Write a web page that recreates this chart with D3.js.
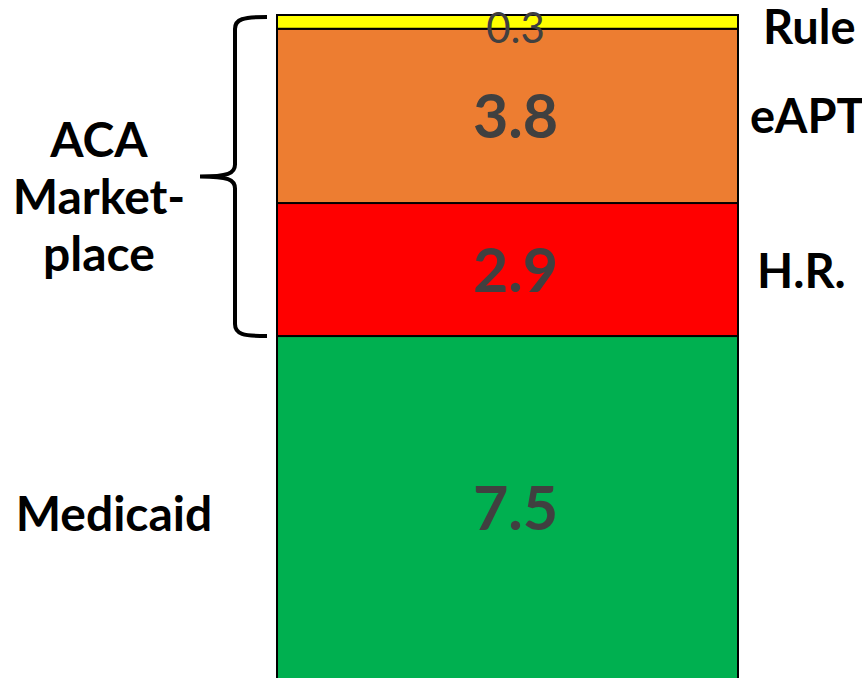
<!DOCTYPE html>
<html>
<head>
<meta charset="utf-8">
<script src="https://cdn.jsdelivr.net/npm/d3@7"></script>
<style>
  body { margin: 0; background: #fff; }
  svg { display: block; font-family: Lato, "Open Sans", sans-serif; }
</style>
</head>
<body>
<div id="chart"></div>
<script>
var width = 862,
    height = 678;

// data, bottom to top
var categories = ["Coverage"];
var segments = ["Medicaid", "H.R.", "eAPTC", "Rule"];
var values = [7.5, 2.9, 3.8, 0.3];
var valueLabels = ["7.5", "2.9", "3.8", "0.3"];
var rightLabels = ["", "H.R.", "eAPTC", "Rule"];
var colors = ["#00b050", "#ff0000", "#ed7d31", "#ffff00"];
var marketLabel = ["ACA", "Market-", "place"];

var svg = d3.select("#chart")
    .append("svg")
    .attr("width", width)
    .attr("height", height);

var row = {};
segments.forEach(function(s, i) { row[s] = values[i]; });

var stacked = d3.stack().keys(segments)([row]);

var x = d3.scaleBand()
    .domain(categories)
    .range([277, 738]);

var y = d3.scaleLinear()
    .domain([0, d3.sum(values)])
    .range([680, 15]);

var seg = svg.selectAll(".seg")
    .data(stacked)
    .enter().append("g")
      .attr("class", "seg");

seg.append("rect")
    .attr("x", x(categories[0]))
    .attr("width", x.bandwidth())
    .attr("y", function(d) { return y(d[0][1]); })
    .attr("height", function(d) { return y(d[0][0]) - y(d[0][1]); })
    .attr("fill", function(d, i) { return colors[i]; })
    .attr("stroke", "#000")
    .attr("stroke-width", 2);

// value labels in the middle of each segment
seg.append("text")
    .attr("x", x(categories[0]) + x.bandwidth() / 2 + 8)
    .attr("y", function(d, i) {
      var mid = (y(d[0][0]) + y(d[0][1])) / 2;
      return i === 3 ? mid + 21 : mid + 22;
    })
    .attr("text-anchor", "middle")
    .attr("fill", "#404040")
    .attr("font-size", function(d, i) { return i === 3 ? 42 : 61; })
    .attr("font-weight", function(d, i) { return i === 3 ? "normal" : "bold"; })
    .text(function(d, i) { return valueLabels[i]; });

// labels on the right of the bar
var rightPos = [null, [757, 288], [750, 133], [763, 44]];
svg.selectAll(".rlabel")
    .data(rightLabels)
    .enter().filter(function(d) { return d; })
    .append("text")
      .attr("class", "rlabel")
      .attr("x", function(d) { return rightPos[rightLabels.indexOf(d)][0]; })
      .attr("y", function(d) { return rightPos[rightLabels.indexOf(d)][1]; })
      .attr("font-size", 47)
      .attr("font-weight", "bold")
      .attr("fill", "#000")
      .text(function(d) { return d; });

// left labels
svg.append("text")
    .attr("x", 114)
    .attr("y", 531)
    .attr("text-anchor", "middle")
    .attr("font-size", 48)
    .attr("font-weight", "bold")
    .text(segments[0]);

svg.append("text")
    .attr("text-anchor", "middle")
    .attr("font-size", 48)
    .attr("font-weight", "bold")
    .selectAll("tspan")
    .data(marketLabel)
    .enter().append("tspan")
      .attr("x", 99)
      .attr("y", function(d, i) { return 157 + i * 57; })
      .text(function(d) { return d; });

// curly brace around the marketplace segments
var braceTop = y(d3.sum(values)) + 2,
    braceBot = y(values[0]),
    braceMid = (braceTop + braceBot) / 2;

svg.append("path")
    .attr("d", "M267," + braceTop + " C243," + braceTop + " 235," + (braceTop + 2) + " 235," + (braceTop + 12) +
               " L235," + (braceMid - 12) + " C235," + (braceMid - 3) + " 228," + braceMid + " 200," + braceMid +
               " C228," + braceMid + " 235," + (braceMid + 3) + " 235," + (braceMid + 12) +
               " L235," + (braceBot - 12) + " C235," + (braceBot - 2) + " 243," + braceBot + " 267," + braceBot)
    .attr("fill", "none")
    .attr("stroke", "#000")
    .attr("stroke-width", 4);
</script>
</body>
</html>
